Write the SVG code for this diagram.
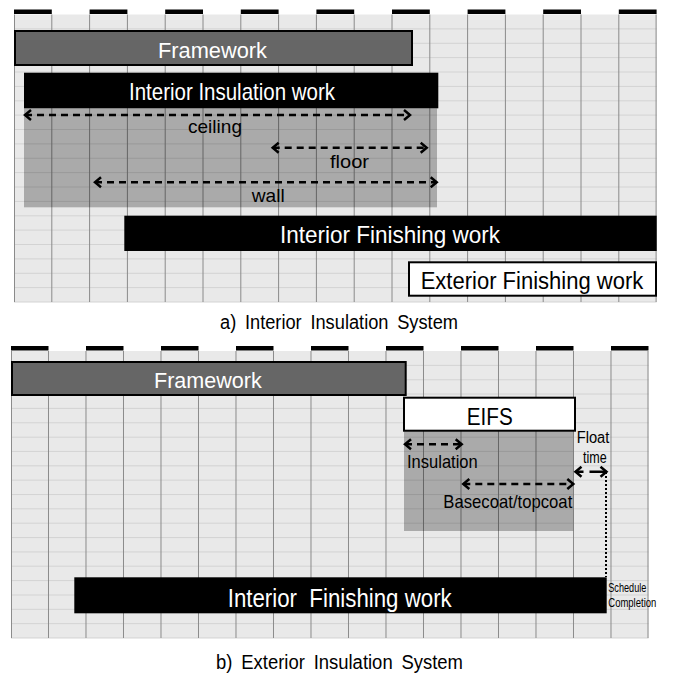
<svg xmlns="http://www.w3.org/2000/svg" xmlns:xlink="http://www.w3.org/1999/xlink" width="674" height="673" viewBox="0 0 674 673">
<style>
.t{font-family:"Liberation Sans",Arial,sans-serif}
.w{fill:#fff}
.k{fill:#000}
.bar-gray{fill:#666;stroke:#000;stroke-width:2}
.bar-black{fill:#000}
.bar-white{fill:#fff;stroke:#000;stroke-width:2}
.shade{fill:#000;fill-opacity:0.27}
.dash{fill:none;stroke:#000;stroke-width:2.5;stroke-dasharray:7 5;marker-start:url(#ah);marker-end:url(#ah)}
.hl{stroke:#d3d3d3;stroke-width:1;fill:none}
.vl{stroke:#8a8a8a;stroke-width:1;fill:none}
</style>
<defs>
<marker id="ah" markerUnits="userSpaceOnUse" markerWidth="12" markerHeight="14" viewBox="0 0 12 14" refX="9" refY="7" orient="auto-start-reverse">
<path d="M3 2 L9 7 L3 12" fill="none" stroke="#000" stroke-width="2.5"/>
</marker>
<g id="grid">
<rect x="0" y="0" width="642.6" height="287.5" fill="#e9e9e9"/>
<path class="hl" d="M0 14.4H642.6M0 28.8H642.6M0 43.1H642.6M0 57.5H642.6M0 71.9H642.6M0 86.3H642.6M0 100.6H642.6M0 115H642.6M0 129.4H642.6M0 143.8H642.6M0 158.1H642.6M0 172.5H642.6M0 186.9H642.6M0 201.3H642.6M0 215.6H642.6M0 230H642.6M0 244.4H642.6M0 258.8H642.6M0 273.1H642.6M0 287.5H642.6"/>
<path class="vl" d="M0.5 0V287.5M37.8 0V287.5M75.6 0V287.5M113.4 0V287.5M151.2 0V287.5M189 0V287.5M226.8 0V287.5M264.6 0V287.5M302.4 0V287.5M340.2 0V287.5M378 0V287.5M415.8 0V287.5M453.6 0V287.5M491.4 0V287.5M529.2 0V287.5M567 0V287.5M604.8 0V287.5M642.1 0V287.5"/>
<g fill="#000">
<rect x="0" y="-5" width="37.8" height="4.5"/>
<rect x="75.6" y="-5" width="37.8" height="4.5"/>
<rect x="151.2" y="-5" width="37.8" height="4.5"/>
<rect x="226.8" y="-5" width="37.8" height="4.5"/>
<rect x="302.4" y="-5" width="37.8" height="4.5"/>
<rect x="378" y="-5" width="37.8" height="4.5"/>
<rect x="453.6" y="-5" width="37.8" height="4.5"/>
<rect x="529.2" y="-5" width="37.8" height="4.5"/>
<rect x="604.8" y="-5" width="37.8" height="4.5"/>
</g>
</g>
</defs>

<!-- Panel a -->
<use xlink:href="#grid" transform="translate(14,14.5)"/>

<g id="a-framework">
<rect class="bar-gray" x="15" y="31" width="397" height="34"/>
<text class="t w" x="158" y="58" font-size="22.5" textLength="109" lengthAdjust="spacingAndGlyphs">Framework</text>
</g>
<g id="a-insulation">
<rect class="bar-black" x="24" y="72.7" width="414.3" height="35.6"/>
<rect class="shade" x="24" y="108.3" width="413" height="99"/>
<text class="t w" x="129" y="100" font-size="24" textLength="206" lengthAdjust="spacingAndGlyphs">Interior Insulation work</text>
</g>
<g id="a-ceiling">
<text class="t k" x="188" y="133" font-size="19" textLength="54" lengthAdjust="spacingAndGlyphs">ceiling</text>
</g>
<g id="a-floor">
<text class="t k" x="330" y="168" font-size="19" textLength="39" lengthAdjust="spacingAndGlyphs">floor</text>
</g>
<g id="a-wall">
<text class="t k" x="251.7" y="201.7" font-size="19" textLength="33" lengthAdjust="spacingAndGlyphs">wall</text>
</g>
<g id="a-finishing">
<rect class="bar-black" x="124.3" y="215.7" width="532.4" height="35.3"/>
<text class="t w" x="280" y="243" font-size="24" textLength="220" lengthAdjust="spacingAndGlyphs">Interior Finishing work</text>
</g>
<g id="a-exterior">
<rect class="bar-white" x="409" y="262.3" width="247" height="33.4"/>
<text class="t k" x="420.7" y="288.7" font-size="23" textLength="222.6" lengthAdjust="spacingAndGlyphs">Exterior Finishing work</text>
</g>
<g id="connectors-a">
<path class="dash" d="M25 115H410"/>
<path class="dash" d="M272.7 147.7H426.7"/>
<path class="dash" d="M95 182.3H436.7"/>
</g>
<text class="t k" x="220" y="329.3" font-size="20" word-spacing="4" textLength="238" lengthAdjust="spacingAndGlyphs">a) Interior Insulation System</text>

<!-- Panel b -->
<use xlink:href="#grid" transform="translate(11,351) scale(0.99206,0.99826)"/>

<g id="b-framework">
<rect class="bar-gray" x="12" y="362" width="393.7" height="33"/>
<text class="t w" x="154" y="388.3" font-size="22.5" textLength="107.7" lengthAdjust="spacingAndGlyphs">Framework</text>
</g>
<g id="b-eifs">
<rect class="shade" x="404" y="430.7" width="169.3" height="100.3"/>
<rect class="bar-white" x="404" y="397.7" width="171" height="33"/>
<text class="t k" x="466.7" y="425" font-size="23" textLength="46" lengthAdjust="spacingAndGlyphs">EIFS</text>
</g>
<g id="b-insulation">
<text class="t k" x="407" y="468.3" font-size="19" textLength="70.7" lengthAdjust="spacingAndGlyphs">Insulation</text>
</g>
<g id="b-basecoat">
<text class="t k" x="443.3" y="508.3" font-size="19" textLength="129" lengthAdjust="spacingAndGlyphs">Basecoat/topcoat</text>
</g>
<g id="b-float">
<text class="t k" x="576.7" y="442.7" font-size="16" textLength="32.6" lengthAdjust="spacingAndGlyphs">Float</text>
<text class="t k" x="583" y="462.7" font-size="16" textLength="23.7" lengthAdjust="spacingAndGlyphs">time</text>
</g>
<g id="b-finishing">
<rect class="bar-black" x="74.3" y="577.3" width="532.4" height="36"/>
<text class="t w" x="227.7" y="606.7" font-size="25" xml:space="preserve" textLength="224" lengthAdjust="spacingAndGlyphs">Interior  Finishing work</text>
</g>
<g id="b-completion">
<text class="t k" x="608.3" y="591.7" font-size="12" textLength="38" lengthAdjust="spacingAndGlyphs">Schedule</text>
<text class="t k" x="608.3" y="606.7" font-size="12" textLength="48" lengthAdjust="spacingAndGlyphs">Completion</text>
</g>
<g id="connectors-b">
<path class="dash" d="M405 444.3H461.7"/>
<path class="dash" d="M463.3 484H573.3"/>
<path class="dash" style="stroke-dasharray:8 6 30" d="M575.5 471.7H606.5"/>
<path d="M606 472V577" fill="none" stroke="#000" stroke-width="2" stroke-dasharray="2 2"/>
</g>
<text class="t k" x="216" y="669.3" font-size="20" word-spacing="4" textLength="247" lengthAdjust="spacingAndGlyphs">b) Exterior Insulation System</text>
</svg>
